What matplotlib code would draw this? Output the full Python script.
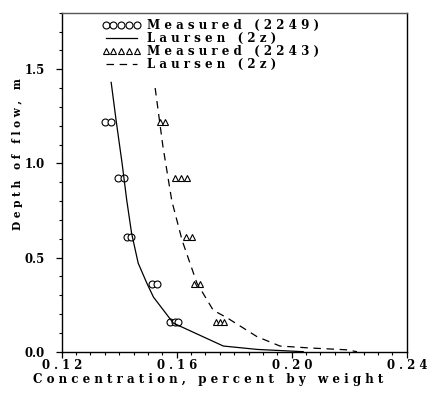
import matplotlib
matplotlib.use("Agg")
import matplotlib.pyplot as plt
from matplotlib.ticker import MultipleLocator

# Measured (2249)
c2249_x = [0.1351, 0.1371, 0.1396, 0.1417, 0.1427, 0.1441, 0.1513, 0.1531,
           0.1577, 0.1594, 0.1605]
c2249_y = [1.22, 1.22, 0.92, 0.92, 0.61, 0.61, 0.36, 0.36, 0.155, 0.155, 0.155]

# Laursen (2z), run 2249
l2249_x = [0.1372, 0.1389, 0.1410, 0.1426, 0.1443, 0.1466, 0.1496, 0.1519,
           0.1588, 0.1762, 0.1880, 0.2040]
l2249_y = [1.43, 1.23, 1.00, 0.806, 0.629, 0.47, 0.364, 0.29, 0.152, 0.03, 0.012, 0.0]

# Measured (2243)
c2243_x = [0.1542, 0.1560, 0.1594, 0.1615, 0.1636, 0.1633, 0.1653, 0.1661,
           0.1682, 0.1737, 0.1751, 0.1765]
c2243_y = [1.22, 1.22, 0.92, 0.92, 0.92, 0.61, 0.61, 0.36, 0.36, 0.155, 0.155, 0.155]

# Laursen (2z), run 2243
l2243_x = [0.1525, 0.1552, 0.1583, 0.1619, 0.1670, 0.1727, 0.1775, 0.1879,
           0.1959, 0.2060, 0.2190, 0.2227]
l2243_y = [1.40, 1.09, 0.80, 0.59, 0.365, 0.22, 0.18, 0.08, 0.03, 0.02, 0.01, 0.0]

xticks = [0.12, 0.16, 0.20, 0.24]
yticks = [0.0, 0.5, 1.0, 1.5]
labels = ["Measured (2249)", "Laursen (2z)", "Measured (2243)", "Laursen (2z)"]

FONT = "DejaVu Serif"


def spread(s):
    # old plotter look: wide letter spacing
    return " ".join(s)


fig = plt.figure(figsize=(4.31, 3.94), dpi=100)
ax = fig.add_axes([0.1432, 0.1074, 0.8005, 0.8604])

ax.plot(c2249_x, c2249_y, linestyle="none", marker="o", markersize=5,
        markerfacecolor="white", markeredgecolor="black", markeredgewidth=0.8,
        label=spread(labels[0]))
ax.plot(l2249_x, l2249_y, color="black", linewidth=0.9, label=spread(labels[1]))
ax.plot(c2243_x, c2243_y, linestyle="none", marker="^", markersize=4.5,
        markerfacecolor="white", markeredgecolor="black", markeredgewidth=0.8,
        label=spread(labels[2]))
ax.plot(l2243_x, l2243_y, color="black", linewidth=0.9, linestyle=(0, (6, 4.5)),
        label=spread(labels[3]))

ax.set_xlim(0.12, 0.24)
ax.set_ylim(0.0, 1.8)
ax.set_xticks(xticks)
ax.set_xticklabels([spread(f"{v:.2f}") for v in xticks],
                   fontfamily=FONT, fontweight="bold", fontsize=8.4)
ax.set_yticks(yticks)
ax.set_yticklabels([f"{v:.1f}" for v in yticks],
                   fontfamily=FONT, fontweight="bold", fontsize=8.4)
ax.xaxis.set_minor_locator(MultipleLocator(0.005))
ax.yaxis.set_minor_locator(MultipleLocator(0.1))
ax.tick_params(which="major", direction="out", length=4, width=0.9,
               top=False, right=False)
ax.tick_params(axis="x", which="major", pad=1.0)
ax.tick_params(axis="y", which="major", pad=8)
ax.tick_params(which="minor", direction="out", length=2.5, width=0.8,
               top=False, right=False)
for s in ax.spines.values():
    s.set_linewidth(1.0)
ax.spines["top"].set_color("#555555")

ax.set_xlabel(spread("Concentration, percent by weight"),
              fontfamily=FONT, fontweight="bold", fontsize=8.6)
ax.xaxis.set_label_coords(0.424, -0.062)
ax.set_ylabel(spread("Depth of flow, m"),
              fontfamily=FONT, fontweight="bold", fontsize=7.6)
ax.yaxis.set_label_coords(-0.112, 0.583)

ax.legend(loc="upper left", bbox_to_anchor=(0.117, 0.982), frameon=False,
          numpoints=5, handlelength=3.2, handletextpad=0.6,
          labelspacing=0.0, borderpad=0, borderaxespad=0,
          prop={"family": FONT, "weight": "bold", "size": 8.6})

fig.savefig("out.png", dpi=100)
